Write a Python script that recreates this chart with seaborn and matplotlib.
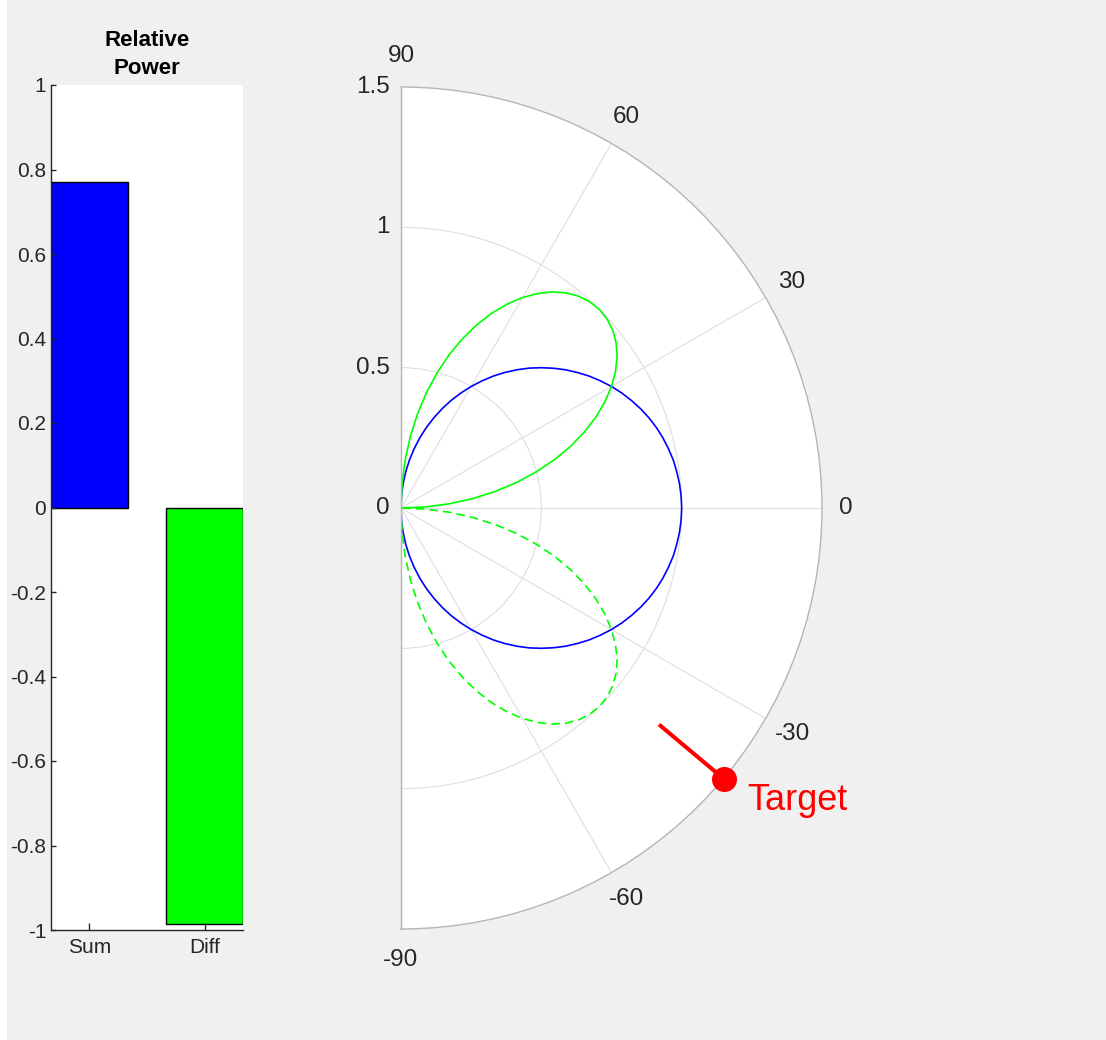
import numpy as np
import pandas as pd
import matplotlib
matplotlib.use("Agg")
import matplotlib.pyplot as plt
import matplotlib.transforms as mtransforms
from matplotlib.patches import Rectangle
import seaborn as sns

# ---- relative power bars ----
categories = ["Sum", "Diff"]
power_values = [0.77, -0.985]
bar_colors = ["#0000ff", "#00ff00"]
power_ticks = [-1.0, -0.8, -0.6, -0.4, -0.2, 0.0, 0.2, 0.4, 0.6, 0.8, 1.0]
power_tick_labels = ["-1", "-0.8", "-0.6", "-0.4", "-0.2", "0",
                     "0.2", "0.4", "0.6", "0.8", "1"]

# ---- beam patterns: angle (deg) and radius, -90 .. 90 in 2.5 deg steps ----
pattern_angles_deg = [-90.0, -87.5, -85.0, -82.5, -80.0, -77.5, -75.0, -72.5, -70.0, -67.5,
                      -65.0, -62.5, -60.0, -57.5, -55.0, -52.5, -50.0, -47.5, -45.0, -42.5,
                      -40.0, -37.5, -35.0, -32.5, -30.0, -27.5, -25.0, -22.5, -20.0, -17.5,
                      -15.0, -12.5, -10.0, -7.5, -5.0, -2.5, 0.0,
                      2.5, 5.0, 7.5, 10.0, 12.5, 15.0, 17.5, 20.0, 22.5, 25.0,
                      27.5, 30.0, 32.5, 35.0, 37.5, 40.0, 42.5, 45.0, 47.5, 50.0,
                      52.5, 55.0, 57.5, 60.0, 62.5, 65.0, 67.5, 70.0, 72.5, 75.0,
                      77.5, 80.0, 82.5, 85.0, 87.5, 90.0]
sum_pattern = [0.000, 0.044, 0.087, 0.131, 0.174, 0.216, 0.259, 0.301, 0.342, 0.383,
               0.423, 0.462, 0.500, 0.537, 0.574, 0.609, 0.643, 0.676, 0.707, 0.737,
               0.766, 0.793, 0.819, 0.843, 0.866, 0.887, 0.906, 0.924, 0.940, 0.954,
               0.966, 0.976, 0.985, 0.991, 0.996, 0.999, 1.000,
               0.999, 0.996, 0.991, 0.985, 0.976, 0.966, 0.954, 0.940, 0.924, 0.906,
               0.887, 0.866, 0.843, 0.819, 0.793, 0.766, 0.737, 0.707, 0.676, 0.643,
               0.609, 0.574, 0.537, 0.500, 0.462, 0.423, 0.383, 0.342, 0.301, 0.259,
               0.216, 0.174, 0.131, 0.087, 0.044, 0.000]
diff_pattern = [0.000, 0.087, 0.174, 0.259, 0.342, 0.423, 0.500, 0.574, 0.643, 0.707,
                0.766, 0.819, 0.866, 0.906, 0.940, 0.966, 0.985, 0.996, 1.000, 0.996,
                0.985, 0.966, 0.940, 0.906, 0.866, 0.819, 0.766, 0.707, 0.643, 0.574,
                0.500, 0.423, 0.342, 0.259, 0.174, 0.087, 0.000,
                0.087, 0.174, 0.259, 0.342, 0.423, 0.500, 0.574, 0.643, 0.707, 0.766,
                0.819, 0.866, 0.906, 0.940, 0.966, 0.985, 0.996, 1.000, 0.996, 0.985,
                0.966, 0.940, 0.906, 0.866, 0.819, 0.766, 0.707, 0.643, 0.574, 0.500,
                0.423, 0.342, 0.259, 0.174, 0.087, 0.000]

theta_ticks_deg = [-90, -60, -30, 0, 30, 60, 90]
theta_tick_labels = ["-90", "-60", "-30", "0", "30", "60", "90"]
radial_grid = [0.5, 1.0]
radial_ticks = [0.0, 0.5, 1.0, 1.5]
radial_tick_labels = ["0", "0.5", "1", "1.5"]

target_angle_deg = -40
target_range = [1.2, 1.5]
target_label = "Target"

# ---- styling ----
plt.rcParams["font.family"] = ["Liberation Sans", "DejaVu Sans"]
text_color = "#262626"
W, H = 1106, 1040

fig = plt.figure(figsize=(W / 100, H / 100), dpi=100, facecolor="#f0f0f0")
fig.add_artist(Rectangle((0, 0), 7 / W, 1, transform=fig.transFigure,
                         facecolor="white", edgecolor="none", zorder=-10))

# ---- bar chart ----
axb = fig.add_axes([51 / W, 110 / H, 192 / W, 845 / H], facecolor="white")
sns.barplot(x=categories, y=power_values, hue=categories, palette=bar_colors,
            width=2 / 3, saturation=1, edgecolor="black", linewidth=1.0,
            legend=False, ax=axb)
axb.set_xlim(-1 / 3, 1 + 1 / 3)
axb.set_ylim(-1, 1)
axb.set_yticks(power_ticks, power_tick_labels)
axb.set_xlabel("")
axb.set_ylabel("")
for side in ("top", "right"):
    axb.spines[side].set_visible(False)
for side in ("left", "bottom"):
    axb.spines[side].set_color(text_color)
    axb.spines[side].set_linewidth(1.0)
axb.tick_params(axis="y", direction="in", length=3.6, width=1, colors=text_color,
                labelsize=15, pad=3.5)
axb.tick_params(axis="x", direction="in", length=5, width=1, colors=text_color,
                labelsize=15, pad=6)
axb.set_title("Relative\nPower", fontsize=16, fontweight="bold", pad=8,
              linespacing=1.4, color="black")

# ---- polar beam pattern ----
# polar axes keep a square box; the half-disc sits centred inside it
axp = fig.add_axes([190.5 / W, 111 / H, 842 / W, 842 / H], projection="polar",
                   facecolor="white")

theta = np.deg2rad(pattern_angles_deg)
ang = np.asarray(pattern_angles_deg)
diff_arr = np.asarray(diff_pattern)
sum_df = pd.DataFrame({"theta": theta, "r": sum_pattern})
upper_df = pd.DataFrame({"theta": theta[ang >= 0], "r": diff_arr[ang >= 0]})
lower_df = pd.DataFrame({"theta": theta[ang <= 0], "r": diff_arr[ang <= 0]})

sns.lineplot(data=sum_df, x="theta", y="r", sort=False, estimator=None,
             color="#0000ff", linewidth=1.2, ax=axp)
sns.lineplot(data=upper_df, x="theta", y="r", sort=False, estimator=None,
             color="#00ff00", linewidth=1.2, ax=axp)
sns.lineplot(data=lower_df, x="theta", y="r", sort=False, estimator=None,
             color="#00ff00", linewidth=1.2, linestyle=(0, (5.2, 3.0)), ax=axp)

# target indicator
tgt = np.deg2rad(target_angle_deg)
axp.plot([tgt, tgt], target_range, color="#ff0000", linewidth=2.9,
         solid_capstyle="butt", clip_on=False, zorder=5)
axp.plot([tgt], [target_range[1]], marker="o", markersize=17,
         color="#ff0000", clip_on=False, zorder=6)
axp.annotate(target_label, xy=(tgt, target_range[1]), xytext=(17, -16),
             textcoords="offset points", ha="left", va="center",
             fontsize=26, color="#ff0000", annotation_clip=False)

axp.set_xlabel("")
axp.set_ylabel("")
axp.set_thetamin(-90)
axp.set_thetamax(90)
axp.set_rlim(0, 1.5)
axp.set_thetagrids(theta_ticks_deg, theta_tick_labels)
axp.set_rgrids(radial_grid, labels=["", ""])
axp.tick_params(axis="x", pad=15, labelsize=17.5, labelcolor=text_color, length=0)
axp.tick_params(axis="y", length=0)
axp.grid(True, color="#dedede", linewidth=0.8)
for sp in axp.spines.values():
    sp.set_color("#b5b5b5")
    sp.set_linewidth(1.0)
for lab in axp.get_xticklabels():
    if lab.get_text() == "0":
        lab.set_horizontalalignment("right")

shift = axp.transData + mtransforms.ScaledTranslation(-0.11, 0, fig.dpi_scale_trans)
for r, lab in zip(radial_ticks, radial_tick_labels):
    axp.text(np.pi / 2, r, lab, transform=shift, ha="right", va="center",
             fontsize=17.5, color=text_color, clip_on=False)

fig.savefig("out.png", dpi=100, facecolor=fig.get_facecolor())
